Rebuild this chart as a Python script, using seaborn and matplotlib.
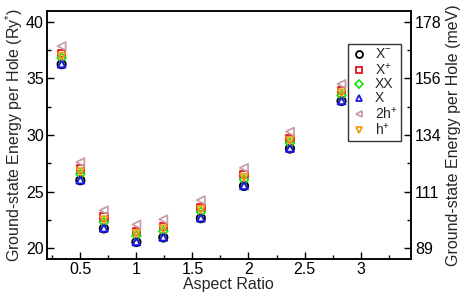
import numpy as np
import pandas as pd
import matplotlib
matplotlib.use("Agg")
import matplotlib.pyplot as plt
from matplotlib.ticker import MultipleLocator
from matplotlib.lines import Line2D
import seaborn as sns

# aspect ratios of the dots
aspect = [0.333, 0.5, 0.71, 1.0, 1.24, 1.575, 1.96, 2.37, 2.83]

# ground-state energy per hole (Ry*)
e_xminus = [36.25, 26.0, 21.75, 20.55, 20.95, 22.65, 25.5, 28.8, 33.0]
e_xplus = [37.2, 27.0, 22.75, 21.5, 21.9, 23.6, 26.5, 29.7, 33.95]
e_xx = [36.8, 26.55, 22.3, 21.1, 21.5, 23.2, 26.05, 29.3, 33.5]
e_x = [36.3, 26.05, 21.8, 20.6, 21.0, 22.7, 25.55, 28.85, 33.05]
e_2h = [37.85, 27.6, 23.35, 22.1, 22.55, 24.25, 27.1, 30.3, 34.5]
e_h = [36.95, 26.75, 22.5, 21.3, 21.7, 23.4, 26.25, 29.5, 33.7]

labels = ["X$^{-}$", "X$^{+}$", "XX", "X", "2h$^{+}$", "h$^{+}$"]
colors = ["black", "#e8141c", "#22e01e", "#1a1adc", "#c8a0a8", "#f0a010"]
markers = ["o", "s", "D", "^", "<", "v"]
sizes = [36, 28, 20, 30, 34, 28]

# right axis: meV ticks at the Ry* ticks 20..40
ry_ticks = [20, 25, 30, 35, 40]
mev_labels = ["89", "111", "134", "156", "178"]

sns.set_theme(style="ticks")
plt.rcParams["font.family"] = ["Liberation Sans", "DejaVu Sans"]
plt.rcParams["mathtext.fontset"] = "custom"
plt.rcParams["mathtext.rm"] = "Liberation Sans"
plt.rcParams["mathtext.it"] = "Liberation Sans"

series = [e_xminus, e_xplus, e_xx, e_x, e_2h, e_h]
df = pd.concat([pd.DataFrame({"aspect": aspect, "energy": s, "label": l})
                for s, l in zip(series, labels)])

fig = plt.figure(figsize=(4.7, 3.0), dpi=100)
ax = fig.add_axes([0.0994, 0.1367, 0.7751, 0.8266])

# draw order: pink first, blue/black last so they sit on top like the original
order = [4, 1, 5, 2, 0, 3]
for i in order:
    sub = df[df["label"] == labels[i]]
    sns.scatterplot(data=sub, x="aspect", y="energy", ax=ax, marker=markers[i],
                    s=sizes[i], facecolor="none", edgecolor=colors[i],
                    linewidth=1.5 if i == 3 else 1.3, zorder=3 + i)

leg_handles = [Line2D([], [], linestyle="none", marker=markers[i],
                      markersize=5 if markers[i] != "D" else 4,
                      markerfacecolor="none", markeredgecolor=colors[i],
                      markeredgewidth=1.3) for i in range(6)]
ax.legend(leg_handles, labels, loc="upper left", bbox_to_anchor=(0.826, 0.867),
          frameon=True, fancybox=False, edgecolor="black", fontsize=10,
          handlelength=1.2, handletextpad=0.5, borderpad=0.25,
          labelspacing=0.0, borderaxespad=0)
ax.get_legend().get_frame().set_linewidth(1.0)

ax.set_xlim(0.2, 3.45)
ax.set_ylim(19.05, 40.95)
ax.set_xticks([0.5, 1, 1.5, 2, 2.5, 3])
ax.set_xticklabels(["0.5", "1", "1.5", "2", "2.5", "3"])
ax.xaxis.set_minor_locator(MultipleLocator(0.25))
ax.yaxis.set_major_locator(MultipleLocator(5))
ax.yaxis.set_minor_locator(MultipleLocator(2.5))
ax.tick_params(axis="both", which="both", direction="in", labelsize=11.5,
               colors="black", pad=2)
ax.tick_params(which="major", length=5, width=1)
ax.tick_params(which="minor", length=3, width=1)
ax.set_xlabel("Aspect Ratio", fontsize=11.5, labelpad=0)
ax.set_ylabel("Ground-state Energy per Hole (Ry$^{*}$)", fontsize=11.5, labelpad=1)

ax2 = ax.twinx()
ax2.set_ylim(ax.get_ylim())
ax2.set_yticks(ry_ticks)
ax2.set_yticklabels(mev_labels)
ax2.yaxis.set_minor_locator(MultipleLocator(2.5))
ax2.tick_params(axis="y", which="both", direction="in", labelsize=11.5,
                colors="black", pad=3)
ax2.tick_params(which="major", length=5, width=1)
ax2.tick_params(which="minor", length=3, width=1)
ax2.set_ylabel("Ground-state Energy per Hole (meV)", fontsize=11.5, labelpad=3)

for a in (ax, ax2):
    for sp in a.spines.values():
        sp.set_visible(True)
        sp.set_linewidth(1.1)
        sp.set_color("black")

fig.savefig("out.png", dpi=100)
